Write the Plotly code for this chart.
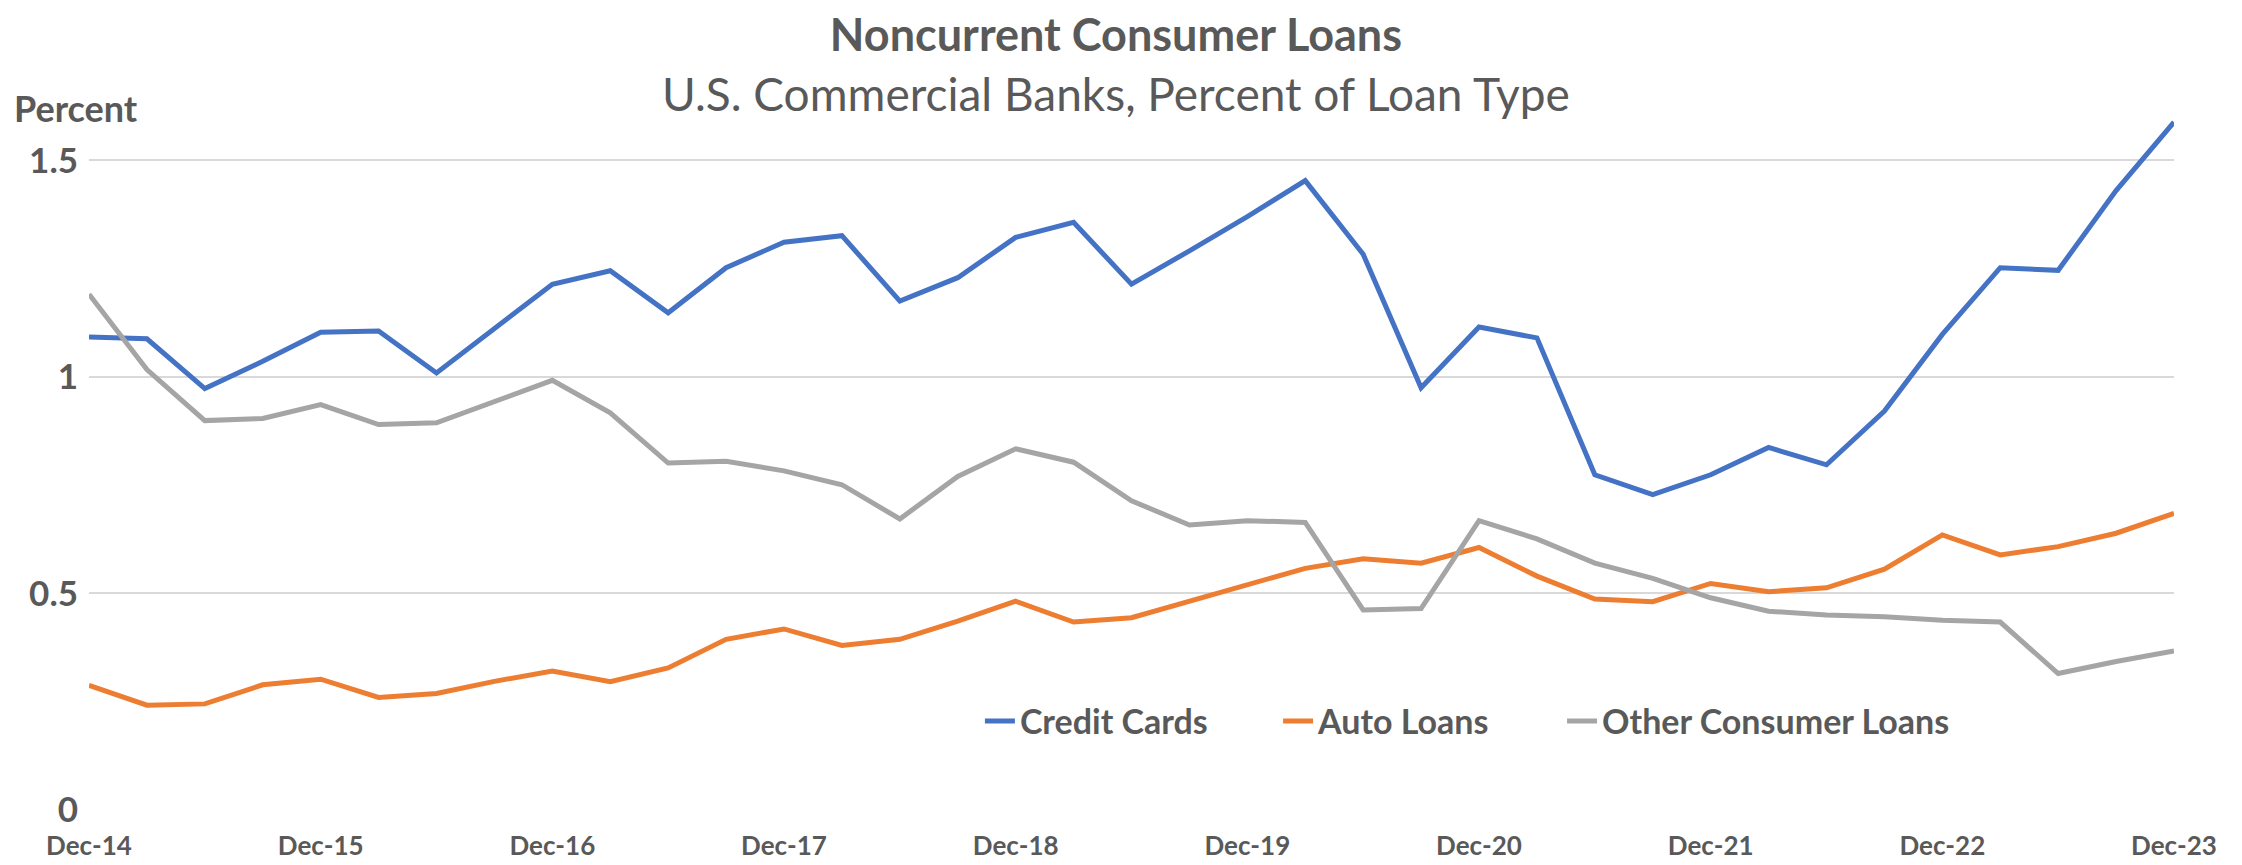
import plotly.graph_objects as go

# Quarterly observations, Dec-14 through Dec-23
quarters = ["Dec-14"] + [f"{m}-{y}" for y in range(15, 24) for m in ("Mar", "Jun", "Sep", "Dec")]

credit_cards = [1.092, 1.088, 0.973, 1.036, 1.103, 1.106, 1.009, 1.113, 1.214, 1.245,
                1.148, 1.252, 1.311, 1.326, 1.175, 1.229, 1.322, 1.357, 1.214, 1.291,
                1.370, 1.453, 1.283, 0.975, 1.115, 1.090, 0.774, 0.728, 0.774, 0.837,
                0.797, 0.921, 1.098, 1.252, 1.246, 1.430, 1.588]

auto_loans = [0.288, 0.242, 0.245, 0.289, 0.302, 0.260, 0.269, 0.297, 0.321, 0.296,
              0.328, 0.394, 0.418, 0.380, 0.394, 0.436, 0.482, 0.434, 0.444, 0.483,
              0.521, 0.558, 0.580, 0.570, 0.606, 0.540, 0.487, 0.481, 0.523, 0.504,
              0.513, 0.556, 0.635, 0.589, 0.608, 0.639, 0.685]

other_consumer = [1.191, 1.017, 0.899, 0.904, 0.936, 0.890, 0.894, 0.944, 0.992, 0.917,
                  0.801, 0.805, 0.783, 0.751, 0.672, 0.770, 0.834, 0.803, 0.714, 0.658,
                  0.668, 0.664, 0.462, 0.465, 0.668, 0.626, 0.570, 0.535, 0.490, 0.459,
                  0.450, 0.446, 0.438, 0.434, 0.315, 0.343, 0.367]

tick_labels = ["Dec-14", "Dec-15", "Dec-16", "Dec-17", "Dec-18",
               "Dec-19", "Dec-20", "Dec-21", "Dec-22", "Dec-23"]

TEXT = "#595959"
FONT = "Lato"

# one legend box per series so the entries can be spaced like the original
series = [
    ("Credit Cards", credit_cards, "#4472C4", "legend", 0.4273),
    ("Auto Loans", auto_loans, "#ED7D31", "legend2", 0.5703),
    ("Other Consumer Loans", other_consumer, "#A5A5A5", "legend3", 0.7065),
]

fig = go.Figure()
legends = {}
for name, values, color, leg, lx in series:
    fig.add_trace(go.Scatter(
        x=quarters, y=values, mode="lines", name=name,
        line=dict(color=color, width=5), legend=leg,
    ))
    legends[leg] = dict(
        orientation="h", x=lx, y=0.128, xanchor="left", yanchor="middle",
        font=dict(size=34, color=TEXT, weight="bold"), bgcolor="rgba(0,0,0,0)",
    )

fig.update_layout(
    width=2242, height=865,
    margin=dict(l=81, r=76, t=109, b=58),
    plot_bgcolor="white", paper_bgcolor="white",
    font=dict(family=FONT, color=TEXT),
    showlegend=True,
    xaxis=dict(
        type="category", range=[0, 36],
        tickvals=tick_labels, ticktext=tick_labels,
        showgrid=False, showline=False, zeroline=False, ticks="",
        ticklabelstandoff=18,
        tickfont=dict(size=26, color=TEXT, weight="bold"),
    ),
    yaxis=dict(
        range=[0, 1.6], tickvals=[0, 0.5, 1, 1.5], ticktext=["0", "0.5", "1", "1.5"],
        showgrid=True, gridcolor="#D9D9D9", gridwidth=1.5,
        zeroline=False, showline=False, ticks="",
        ticklabelstandoff=10,
        tickfont=dict(size=35, color=TEXT, weight="bold"),
    ),
    annotations=[
        dict(text="<span style='font-size:45px'><b>Noncurrent Consumer Loans</b></span>"
                  "<br>U.S. Commercial Banks, Percent of Loan Type",
             xref="paper", yref="paper", x=0.4925, y=1.1619,
             xanchor="center", yanchor="top", align="center", showarrow=False,
             font=dict(size=46, color=TEXT)),
        dict(text="Percent", xref="paper", yref="paper",
             x=-0.037, y=1.013, xanchor="left", yanchor="middle", showarrow=False,
             font=dict(size=36, color=TEXT, weight="bold")),
    ],
    **legends,
)

fig.write_html("out.html")
